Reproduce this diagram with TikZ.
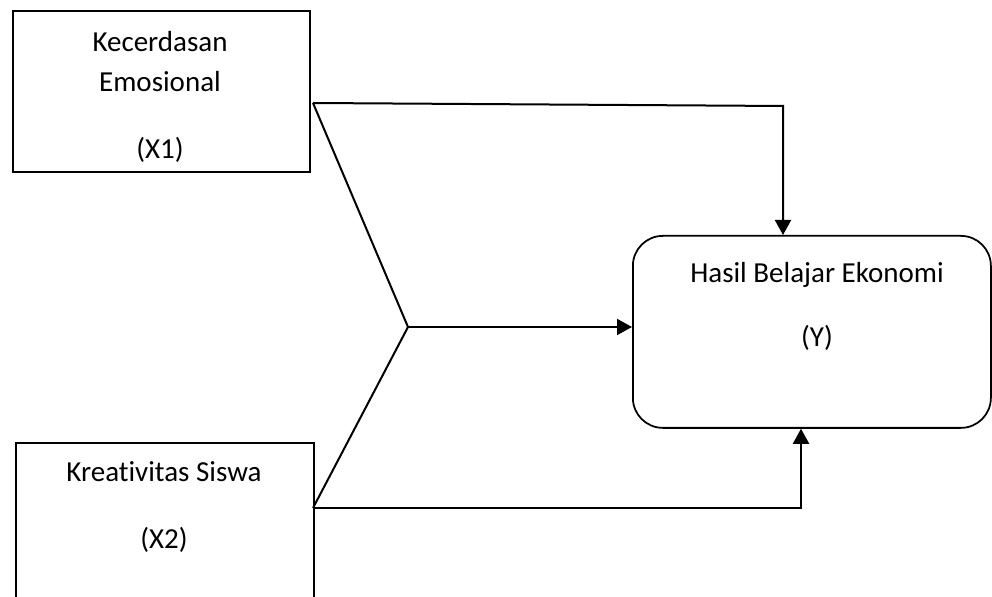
\documentclass[tikz,border=0pt]{standalone}
\usepackage{fontspec}
\setmainfont{Carlito}[Ligatures=CommonOff]
\usetikzlibrary{arrows.meta}

\begin{document}
\begin{tikzpicture}[x=0.4pt,y=-0.4pt,line width=0.8pt,font=\fontsize{11.6}{14}\selectfont]
      \tikzstyle{every box}=[draw,rectangle,inner sep=0pt,anchor=north west,line width=0.7pt]
      \tikzstyle{every arrow}=[-{Triangle[length=6pt,width=6.4pt]}]
      \useasboundingbox (0,0) rectangle (992,597);

      % Variable X1
      \node[every box,minimum width=118.8pt,minimum height=64.4pt] (X1) at (12,10) {};
      \node (X1-a) at (160,42) {Kecerdasan};
      \node (X1-b) at (160,82) {Emosional};
      \node (X1-c) at (160,150) {(X1)};

      % Variable X2
      \node[every box,minimum width=119.2pt,minimum height=72pt] (X2) at (15,442) {};
      \node (X2-a) at (164,472) {Kreativitas Siswa};
      \node (X2-b) at (164,540) {(X2)};

      % Variable Y
      \node[every box,rounded corners=12pt,minimum width=143.2pt,minimum height=76.8pt] (Y) at (632,235) {};
      \node (Y-a) at (817,275) {Hasil Belajar Ekonomi};
      \node (Y-b) at (817,338) {(Y)};

      % Connections
      \coordinate (X1-out) at (313,103);
      \coordinate (X2-out) at (313,508);
      \coordinate (J) at (408,327);
      \coordinate (c1) at (783,106);
      \coordinate (c2) at (801,508);
      \draw (X1-out) -- (J) -- (X2-out);
      \draw[every arrow] (X1-out) -- (c1) -- (c1 |- Y.north);
      \draw[every arrow] (J) -- (J -| Y.west);
      \draw[every arrow] (X2-out) -- (c2) -- (c2 |- Y.south);
    \end{tikzpicture}
\end{document}
